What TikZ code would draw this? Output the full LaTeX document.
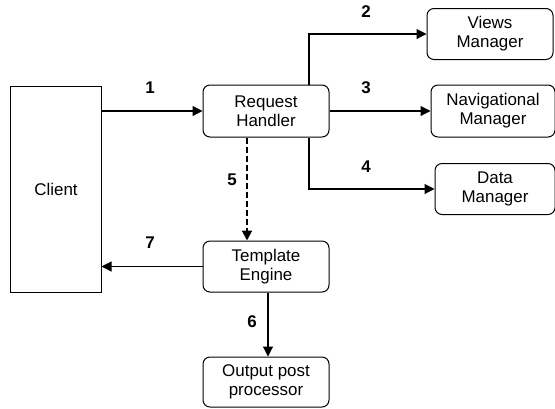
\documentclass[tikz,border=0pt]{standalone}
\usepackage{fontspec}
\setmainfont{Liberation Sans}
\usetikzlibrary{arrows.meta}
\begin{document}
\begin{tikzpicture}[x=1bp,y=-1bp,
  box/.style={draw,rounded corners=7bp,line width=1bp,align=center,inner sep=0pt,font=\fontsize{17}{19}\selectfont},
  conn/.style={line width=1.1bp,-{Triangle[length=10bp,width=10bp]}},
  lab/.style={font=\fontsize{17}{19}\selectfont\bfseries}]
\useasboundingbox (0,0) rectangle (555,408);
\node[draw,line width=1bp,minimum width=90bp,minimum height=206bp,inner sep=0pt,font=\fontsize{17}{19}\selectfont] (client) at (56,189) {Client};
\node[box,minimum width=126bp,minimum height=52bp] (rh) at (266,111) {Request\\Handler};
\node[box,minimum width=126bp,minimum height=51bp] (vm) at (490,34) {Views\\Manager};
\node[box,minimum width=124bp,minimum height=52bp] (nm) at (493,111) {Navigational\\Manager};
\node[box,minimum width=120bp,minimum height=51bp] (dm) at (495,189) {Data\\Manager};
\node[box,minimum width=126bp,minimum height=51bp] (te) at (266,266.5) {Template\\Engine};
\node[box,minimum width=126bp,minimum height=50bp] (op) at (266,382) {Output post\\processor};
\draw[conn] (client.east |- rh.west) -- (rh.west);
\draw[conn] (rh.north -| 309,0) |- (vm.west);
\draw[conn] (rh.east) -- (nm.west);
\draw[conn] (rh.south -| 309,0) |- (dm.west);
\draw[conn,line width=2bp,dash pattern=on 6bp off 3bp] (rh.south -| 247,0) -- (te.north -| 247,0);
\draw[conn] (te.west) -- (client.east |- te.west);
\draw[conn] (te.south -| 268,0) -- (op.north -| 268,0);
\node[lab] (l1) at (150,88) {1};
\node[lab] (l2) at (366,12) {2};
\node[lab] (l3) at (366,88) {3};
\node[lab] (l4) at (366,167) {4};
\node[lab] (l5) at (232,180) {5};
\node[lab] (l6) at (252,322) {6};
\node[lab] (l7) at (150,243) {7};
\end{tikzpicture}
\end{document}
